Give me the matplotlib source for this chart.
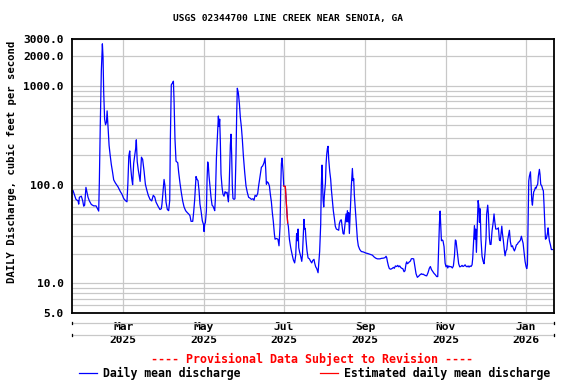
import numpy as np
import matplotlib
matplotlib.use("Agg")
import matplotlib.pyplot as plt
import matplotlib.dates as mdates
from matplotlib.lines import Line2D
from matplotlib.ticker import FixedLocator, NullFormatter

plt.rcParams['font.family'] = 'DejaVu Sans Mono'
plt.rcParams['font.weight'] = 'bold'

## daily mean discharge (days counted from start)
start = '2025-01-21'
days = [0.8, 2.0, 3.0, 4.6, 5.1, 5.6, 7.1, 8.1, 8.9, 9.6,
        10.6, 11.4, 12.2, 13.2, 14.7, 16.5, 18.3, 20.3, 20.8, 21.5,
        22.3, 23.1, 23.6, 24.1, 24.8, 25.5, 26.2, 26.7, 27.3, 28.2,
        29.0, 29.9, 30.8, 31.7, 33.0, 35.0, 36.8, 38.0, 39.3, 40.6,
        41.8, 42.5, 43.2, 43.9, 44.6, 45.4, 46.1, 46.9, 48.4, 48.9,
        49.6, 50.4, 51.2, 51.8, 52.8, 53.7, 54.8, 55.8, 56.8, 58.0,
        59.3, 60.6, 61.8, 62.9, 63.9, 65.7, 66.9, 67.9, 68.4, 69.2,
        70.0, 70.7, 71.5, 72.5, 73.5, 74.3, 74.8, 75.5, 76.3, 77.1,
        77.6, 78.3, 79.1, 80.4, 81.1, 82.1, 83.1, 84.2, 85.2, 86.4,
        87.7, 88.7, 89.7, 90.5, 91.8, 92.5, 93.3, 94.3, 95.1, 95.8,
        96.6, 97.3, 98.1, 99.1, 100.1, 100.4, 100.9, 101.4, 102.2, 102.7,
        103.2, 103.7, 104.2, 104.9, 105.7, 106.5, 107.2, 108.0, 108.5, 109.0,
        109.8, 110.5, 111.3, 111.8, 112.3, 112.8, 113.3, 114.1, 114.8, 115.6,
        116.4, 117.1, 117.9, 118.4, 118.9, 119.4, 119.9, 120.4, 120.9, 121.4,
        121.9, 122.4, 123.2, 123.9, 124.7, 125.2, 125.7, 126.5, 127.3, 128.0,
        128.8, 129.5, 130.3, 131.3, 132.3, 133.3, 134.3, 135.4, 136.4, 137.6,
        138.4, 139.2, 140.2, 141.2, 141.9, 143.0, 144.0, 145.0, 146.0, 146.8,
        147.3, 147.8, 148.5, 149.3, 150.1, 150.8, 151.6, 152.3, 153.1, 153.9,
        154.4, 155.4, 156.6, 157.4, 158.2, 158.7, 159.2, 159.7, 160.5, 161.0,
        162.2, 162.7, 163.5, 164.0, 164.5, 165.3, 166.3, 167.3, 168.3, 169.3,
        170.1, 170.8, 171.4, 171.9, 172.4, 173.1, 173.9, 174.7, 175.2, 175.9,
        176.4, 176.9, 177.4, 177.9, 178.7, 179.5, 180.5, 181.5, 182.3, 183.0,
        184.0, 184.5, 185.3, 186.1, 187.1, 187.6, 188.3, 189.1, 189.6, 190.1,
        190.9, 191.4, 191.9, 192.7, 193.2, 193.7, 194.2, 194.7, 195.2, 196.0,
        196.7, 197.2, 198.0, 198.7, 199.5, 200.2, 201.0, 202.0, 202.8, 203.3,
        204.1, 204.8, 205.3, 206.1, 206.8, 207.6, 208.4, 208.9, 209.4, 209.9,
        210.4, 210.9, 211.4, 211.9, 212.4, 213.2, 213.7, 214.2, 214.7, 215.2,
        215.7, 216.2, 217.0, 217.7, 218.8, 220.0, 221.5, 223.3, 225.1, 227.1,
        228.4, 229.7, 230.9, 232.2, 234.2, 235.2, 236.8, 238.0, 238.8, 239.3,
        239.8, 240.6, 241.3, 242.3, 243.3, 244.4, 245.1, 245.9, 246.9, 247.7,
        248.4, 249.2, 249.9, 250.7, 251.5, 252.5, 253.2, 254.0, 254.5, 255.0,
        255.8, 256.5, 257.3, 258.0, 258.6, 259.8, 260.8, 261.6, 262.6, 263.6,
        264.6, 265.7, 266.2, 266.9, 267.7, 268.7, 269.7, 270.7, 271.7, 272.5,
        273.3, 274.3, 275.3, 276.3, 277.3, 278.1, 278.6, 279.4, 279.9, 280.4,
        280.9, 281.6, 282.1, 282.9, 283.7, 284.4, 285.2, 285.7, 286.5, 287.2,
        288.2, 289.2, 290.0, 290.8, 291.5, 292.0, 292.5, 293.3, 294.0, 294.8,
        295.6, 296.6, 297.3, 298.1, 298.9, 299.6, 300.4, 301.2, 301.9, 302.7,
        303.4, 304.2, 304.7, 305.5, 306.0, 306.5, 307.0, 307.5, 308.2, 308.8,
        309.3, 309.8, 310.3, 311.0, 311.8, 312.6, 313.3, 314.1, 314.8, 315.3,
        316.1, 316.6, 317.4, 317.9, 318.6, 319.4, 319.9, 320.4, 320.9, 321.4,
        322.2, 322.9, 323.7, 324.2, 325.0, 325.7, 326.2, 326.8, 327.3, 328.0,
        328.8, 329.3, 330.0, 330.6, 331.3, 332.1, 332.6, 333.3, 334.1, 334.9,
        335.6, 336.4, 337.1, 337.9, 338.7, 339.4, 340.2, 341.0, 341.7, 342.2,
        343.0, 343.7, 344.5, 345.3, 345.8, 346.3, 346.8, 347.3, 347.8, 348.6,
        349.1, 349.6, 350.1, 350.6, 351.1, 351.6, 352.4, 352.9, 353.4, 354.1,
        354.6, 355.4, 355.9, 356.4, 357.2, 358.0, 358.4, 358.9, 359.4, 360.0,
        360.7, 361.5, 362.0, 362.5, 363.0, 363.8, 364.5, 365.5]
flow = [87, 78, 71, 68.5, 63.5, 74.5, 76.5, 69, 60.5, 62,
        94, 83.5, 74.5, 68.5, 63, 61, 61, 54, 108, 402,
        1430, 2680, 1960, 865, 462, 405, 430, 560, 410, 250,
        200, 160, 135, 112, 104, 95, 85, 80, 72.5, 69,
        67, 104, 195, 220, 152, 116, 100, 165, 232, 285,
        171, 141, 120, 108, 190, 181, 137, 101, 89, 78,
        71, 68.5, 78, 75, 66.5, 59.5, 56, 57, 63.5, 83.5,
        113, 97, 66.5, 56, 54.5, 69, 295, 1030, 1070, 1120,
        710, 290, 173, 167, 134, 104, 83.5, 68, 59.5, 54.5,
        52, 50.5, 48.5, 42.5, 42.5, 52.5, 71, 121, 113, 110,
        87, 63.5, 54.5, 43, 39, 33.5, 40, 41, 54.5, 113,
        170, 155, 122, 97, 74.5, 62, 60.5, 57, 54.5, 71,
        186, 290, 497, 389, 462, 268, 128, 94, 80, 76.5,
        85, 82, 84, 74.5, 67, 87, 155, 252, 325, 204,
        97, 72.5, 71, 72, 197, 500, 950, 850, 657, 480,
        383, 290, 197, 134, 97, 83.5, 74.5, 73, 71, 72,
        69.5, 78, 76, 81.5, 97, 122, 150, 155, 167, 186,
        143, 101, 107, 104, 97, 80, 67, 52.5, 42, 31.5,
        28, 28.5, 28, 24, 38, 91, 163, 186, 134, 97,
        96, 74.5, 50.5, 41, 38, 28, 23, 19.8, 17.3, 16.1,
        19.2, 32, 27, 35.5, 23, 20.6, 18.8, 16.7, 19.2, 31.5,
        44.5, 35.5, 36, 28, 21.3, 18.1, 17.7, 16.7, 16.1, 17,
        17.5, 16.1, 14.7, 14.1, 12.8, 15.8, 21, 39.5, 101, 158,
        71, 59.5, 78, 104, 164, 204, 233, 245, 181, 135,
        113, 90, 69, 54.5, 45.5, 38, 35.5, 35, 34.5, 40.5,
        43.5, 44, 38.5, 32, 31.5, 40, 50.5, 42, 54.5, 42,
        52, 32, 46.5, 63.5, 97, 146, 110, 115, 78, 62,
        48.5, 40, 28, 24, 22, 21, 20.8, 20.3, 20, 19.6,
        19.3, 18.5, 18, 17.7, 17.7, 17.9, 18, 18.2, 18.8, 18.2,
        16.7, 15, 14.1, 13.9, 14.1, 14.5, 14.2, 15, 14.8, 15.2,
        14.7, 15, 14.5, 14.2, 14.1, 13.1, 13.4, 15.8, 16.5, 15.8,
        16.1, 16.5, 16.8, 17.7, 17.8, 17.7, 14.7, 12.5, 11.5, 11.8,
        12.2, 12.5, 12.3, 12.4, 12.2, 12.0, 11.9, 12.8, 14.2, 14.8,
        13.8, 13.2, 12.6, 12.2, 11.7, 11.7, 18.8, 41, 54, 38,
        27, 27.5, 27, 23.5, 16, 14.7, 15.2, 14.3, 15, 14.7,
        14.8, 14.3, 15, 18.8, 27.5, 27, 23.5, 18.8, 15.8, 14.7,
        14.8, 15.2, 14.8, 15, 15.4, 14.9, 14.7, 15, 14.6, 15,
        14.8, 15.4, 18, 28, 38.5, 28, 35.5, 20.6, 38, 69,
        62, 41.5, 57, 28, 18.8, 16.7, 15.8, 20.8, 28.5, 50.5,
        62, 50.5, 28.5, 24.8, 24.8, 34, 38, 43, 50.5, 43,
        35.5, 35.5, 35.8, 36.5, 27.5, 27, 31.5, 38, 32, 27,
        21.3, 19, 21.3, 22, 27.5, 31.5, 34.5, 26.5, 23.5, 24,
        22.5, 21.3, 22.5, 24.5, 25, 26, 26.5, 27.5, 30, 28,
        25.5, 21, 16.7, 14.7, 14.1, 15.5, 40, 109, 122, 135,
        97, 69, 62, 74.5, 85, 87, 94, 92, 97, 101,
        122, 143, 126, 101, 97, 89, 87, 63.5, 43.5, 28,
        28.5, 32, 36.5, 30.5, 27, 24.5, 22, 22]

## estimated daily mean discharge (red piece, early July)
est_days = [161.0, 162.2, 162.7, 163.5, 164.0]
est_flow = [97, 96, 74.5, 50.5, 41]

tick_dates = ['2025-03-01', '2025-05-01', '2025-07-01', '2025-09-01', '2025-11-01', '2026-01-01']
tick_months = ['Mar', 'May', 'Jul', 'Sep', 'Nov', 'Jan']
tick_years = ['2025', '2025', '2025', '2025', '2025', '2026']
ytick_vals = [5, 10, 100, 1000, 2000, 3000]
ytick_labels = ['5.0', '10.0', '100.0', '1000.0', '2000.0', '3000.0']

assert len(days) == len(flow)

t0 = mdates.datestr2num(start)
x = t0 + np.array(days)
x_est = t0 + np.array(est_days)
xt = [mdates.datestr2num(d) for d in tick_dates]

W, H = 576, 384
GRID = '#c8c8c8'
fig = plt.figure(figsize=(W/100, H/100), dpi=100)
ax = fig.add_axes([72/W, 1-313/H, 482/W, 274/H])

ax.set_yscale('log')
ax.set_ylim(5, 3000)
ax.set_xlim(t0, t0+366.5)

# horizontal grid on every 1-9 step of each decade
gvals = [m*10**e for e in range(0, 4) for m in range(1, 10) if 5 <= m*10**e <= 3000]
ax.yaxis.set_major_locator(FixedLocator(ytick_vals))
ax.set_yticklabels(ytick_labels)
ax.yaxis.set_minor_locator(FixedLocator(gvals))
ax.yaxis.set_minor_formatter(NullFormatter())
ax.grid(which='both', axis='y', color=GRID, lw=0.9)

ax.set_xticks(xt)
ax.set_xticklabels([])
ax.grid(axis='x', color=GRID, lw=0.9)
ax.tick_params(which='both', length=0, labelsize=8.1, pad=6)
ax.set_axisbelow(True)

ax.plot(x, flow, color='#0000ff', lw=0.9)
ax.plot(x_est, est_flow, color='#ff0000', lw=0.9)

for s in ax.spines.values():
    s.set_linewidth(1.3)

# month / year labels under the axis
tr = ax.get_xaxis_transform()
for xx, m, y in zip(xt, tick_months, tick_years):
    ax.text(xx, (313-327)/274, m, transform=tr, ha='center', va='center', fontsize=8.1, clip_on=False)
    ax.text(xx, (313-340)/274, y, transform=tr, ha='center', va='center', fontsize=8.1, clip_on=False)

for yy in [323, 335]:
    fig.add_artist(Line2D([72/W, 554/W], [1-yy/H]*2, color=GRID, lw=0.9))
    for xx in [72, 554]:
        fig.add_artist(Line2D([xx/W]*2, [1-(yy-1)/H, 1-(yy+1)/H], color='black', lw=0.9))

fig.text(0.5, 1-19/H, 'USGS 02344700 LINE CREEK NEAR SENOIA, GA', ha='center', va='center', fontsize=6.8)
fig.text(12/W, 1-162/H, 'DAILY Discharge, cubic feet per second', rotation=90,
         ha='center', va='center', fontsize=7.7)
fig.text(312/W, 1-359/H, '---- Provisional Data Subject to Revision ----', color='red',
         ha='center', va='center', fontsize=8.4)

ly = 1-373/H
fig.add_artist(Line2D([79/W, 97/W], [ly, ly], color='#0000ff', lw=0.9))
fig.text(103/W, ly, 'Daily mean discharge', ha='left', va='center', fontsize=8.3)
fig.add_artist(Line2D([320/W, 338/W], [ly, ly], color='#ff0000', lw=0.9))
fig.text(344/W, ly, 'Estimated daily mean discharge', ha='left', va='center', fontsize=8.3)

fig.savefig('out.png', dpi=100)
